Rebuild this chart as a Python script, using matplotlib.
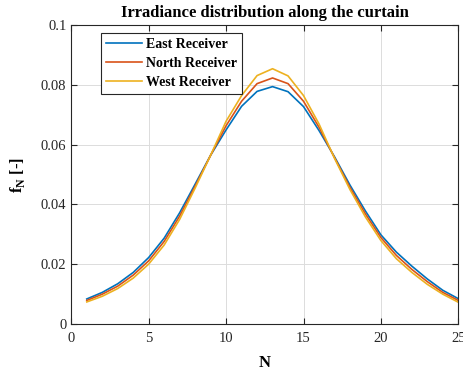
import numpy as np
import matplotlib
matplotlib.use("Agg")
import matplotlib.pyplot as plt
from matplotlib.ticker import FormatStrFormatter

plt.rcParams['font.family'] = ['Liberation Serif', 'DejaVu Serif']

# curtain segment index
N = np.arange(1, 26)

east = [0.0083, 0.0105, 0.0134, 0.0172, 0.0222, 0.0287, 0.0372, 0.0468, 0.0565,
        0.0650, 0.0729, 0.0779, 0.0795, 0.0778, 0.0728, 0.0648, 0.0560, 0.0465,
        0.0378, 0.0298, 0.0240, 0.0193, 0.0150, 0.0112, 0.0084]
north = [0.0078, 0.0099, 0.0126, 0.0163, 0.0211, 0.0276, 0.0361, 0.0461, 0.0565,
         0.0664, 0.0746, 0.0805, 0.0824, 0.0805, 0.0746, 0.0659, 0.0557, 0.0457,
         0.0368, 0.0289, 0.0229, 0.0182, 0.0141, 0.0105, 0.0078]
west = [0.0073, 0.0092, 0.0118, 0.0153, 0.0200, 0.0264, 0.0350, 0.0455, 0.0565,
        0.0679, 0.0765, 0.0832, 0.0855, 0.0831, 0.0765, 0.0670, 0.0555, 0.0450,
        0.0358, 0.0279, 0.0218, 0.0172, 0.0132, 0.0099, 0.0072]

labels = ['East Receiver', 'North Receiver', 'West Receiver']
colors = ['#0072BD', '#D95319', '#EDB120']

fig = plt.figure(figsize=(4.64, 3.72), dpi=100)
ax = fig.add_axes([0.1537, 0.1298, 0.8340, 0.8017])

for y, lab, c in zip([east, north, west], labels, colors):
    ax.plot(N, y, color=c, lw=1.2, label=lab)

ax.set_xlim(0, 25)
ax.set_ylim(0, 0.1)
ax.set_xticks(np.arange(0, 26, 5))
ax.set_yticks(np.arange(0, 0.101, 0.02))
ax.yaxis.set_major_formatter(FormatStrFormatter('%g'))
ax.grid(True, color='#dcdcdc', lw=0.7)
ax.set_axisbelow(True)
ax.tick_params(direction='in', top=True, right=True, length=4,
               colors='#262626', labelsize=10.5, labelcolor='#262626')
ax.tick_params(axis='x', pad=6)
for s in ax.spines.values():
    s.set_color('#262626')
    s.set_linewidth(0.8)

ax.set_title('Irradiance distribution along the curtain', fontsize=12,
             fontweight='bold', pad=6)
ax.set_xlabel('N', fontsize=12, fontweight='bold', labelpad=7)
ax.set_ylabel('f$_\\mathregular{N}$ [-]', fontsize=12, fontweight='bold', labelpad=10)

leg = ax.legend(loc='upper left', bbox_to_anchor=(0.077, 0.975), borderaxespad=0,
                fancybox=False, framealpha=1, edgecolor='#262626',
                prop={'weight': 'bold', 'size': 10}, borderpad=0.35,
                labelspacing=0.45, handlelength=2.6, handletextpad=0.3)
leg.get_frame().set_linewidth(0.8)

fig.savefig('out.png', dpi=100)
